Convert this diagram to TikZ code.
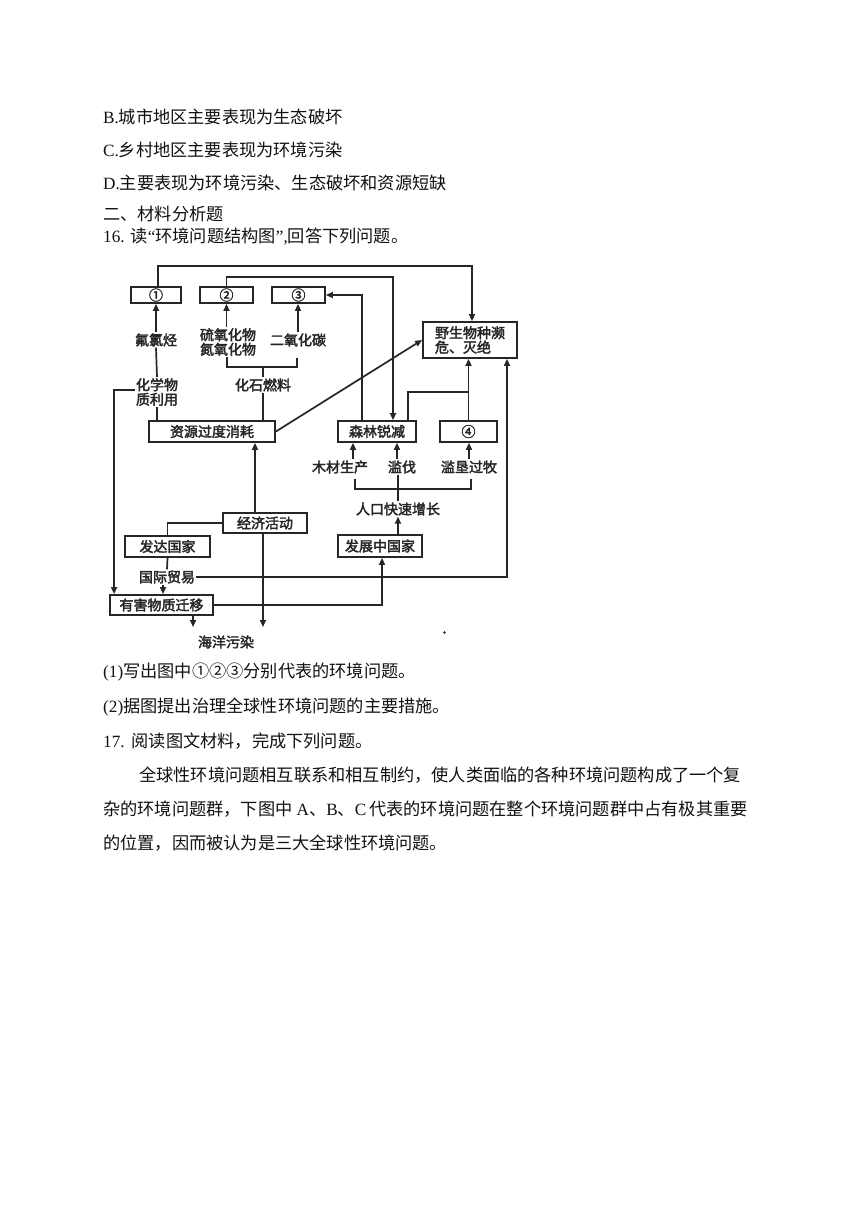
\documentclass[tikz,border=0pt]{standalone}
\usepackage{fontspec}
\setmainfont{Liberation Serif}
\newfontfamily\cjk{Noto Sans CJK SC}
\newfontfamily\dfont[AutoFakeBold=2.5]{Noto Sans CJK SC}
\newcommand\zh[1]{{\cjk #1}}
\usetikzlibrary{arrows.meta}
\definecolor{lc}{HTML}{262626}
\definecolor{tc}{HTML}{111111}
\tikzset{
  body/.style={anchor=west, inner sep=0pt, font=\fontsize{17.2}{20}\selectfont, text=tc},
  dtext/.style={inner sep=1pt, align=center, text=lc, font=\dfont\bfseries\fontsize{14}{14.5}\selectfont},
  box/.style={dtext, draw=lc, line width=1.8pt, inner sep=0pt},
  link/.style={draw=lc, line width=1.7pt},
  arr/.style={link, -{Triangle[length=7pt,width=6pt]}}
}
\begin{document}
\begin{tikzpicture}[x=1pt,y=-1pt]
\useasboundingbox (0,0) rectangle (860,1216);
\fill[white] (0,0) rectangle (860,1216);

% ---------- text above ----------
\node[body] (tB) at (103,117) {B.\zh{城市地区主要表现为生态破坏}};
\node[body] (tC) at (103,150) {C.\zh{乡村地区主要表现为环境污染}};
\node[body] (tD) at (103,183) {D.\zh{主要表现为环境污染、生态破坏和资源短缺}};
\node[body] (t2) at (103,214) {\zh{二、材料分析题}};
\node[body] (t16) at (103,237) {16.\hspace{6pt}\zh{读}“\zh{环境问题结构图}”,\zh{回答下列问题。}};

% ---------- diagram boxes ----------
\node[box, minimum width=50, minimum height=16] (b1) at (156,295) {①};
\node[box, minimum width=53, minimum height=16] (b2) at (226.5,295) {②};
\node[box, minimum width=53, minimum height=16] (b3) at (298.5,295) {③};
\node[box, minimum width=94, minimum height=36, align=left] (wild) at (470,340) {野生物种濒\\危、灭绝};
\node[box, minimum width=126, minimum height=21] (res) at (212,431.5) {资源过度消耗};
\node[box, minimum width=78, minimum height=21] (forest) at (377,431.5) {森林锐减};
\node[box, minimum width=57, minimum height=21] (b4) at (468.5,431.5) {④};
\node[box, minimum width=84, minimum height=20] (econ) at (265,523) {经济活动};
\node[box, minimum width=85, minimum height=21] (dev) at (167.5,546.5) {发达国家};
\node[box, minimum width=84, minimum height=22] (devg) at (380,546) {发展中国家};
\node[box, minimum width=103, minimum height=20] (harm) at (161.5,605) {有害物质迁移};

% ---------- diagram labels ----------
\node[dtext] (cfc) at (156,340) {氟氯烃};
\node[dtext] (sox) at (228,342) {硫氧化物\\氮氧化物};
\node[dtext] (co2) at (298,340) {二氧化碳};
\node[dtext] (chem) at (157,392) {化学物\\质利用};
\node[dtext] (fossil) at (263,385) {化石燃料};
\node[dtext] (wood) at (340,467) {木材生产};
\node[dtext] (cut) at (402,467) {滥伐};
\node[dtext] (graze) at (469,467) {滥垦过牧};
\node[dtext] (pop) at (398,509) {人口快速增长};
\node[dtext] (trade) at (167,577) {国际贸易};
\node[dtext] (ocean) at (226,642) {海洋污染};

\coordinate (oc) at (0,627);
\coordinate (brL) at (227,357);
\coordinate (brR) at (297,358);
\coordinate (wbL) at (355,479);
\coordinate (wbR) at (471,479);

% ---------- connectors: top ----------
\draw[arr] ([xshift=2]b1.north) -- ++(0,-20) -| ([xshift=2]wild.north);
\draw[arr] (b2.north) -- ++(0,-9) -| ([xshift=16]forest.north);
\draw[arr] ([xshift=-15]forest.north) |- (b3.east);
\draw[link] ([xshift=31]forest.north) -- ++(0,-28) -| (b4.north);
\draw[arr] (b4.north) -- (b4.north |- wild.south);
\draw[arr] (res.east) -- (wild.west);
\draw[arr] (trade.east) -| ([xshift=37]wild.south);

% ---------- connectors: left column ----------
\draw[arr] (cfc.north) -- (cfc.north |- b1.south);
\draw[link] (cfc.south) -- (chem.north);
\draw[link] (chem.south) -- (chem.south |- res.north);
\draw[arr] ([yshift=2]chem.west) -| ([xshift=5]harm.north west);
\draw[arr] (b2.south |- sox.north) -- (b2.south);
\draw[arr] (co2.north) -- (co2.north |- b3.south);
\draw[link] (brL) -- ++(0,10) -| (brR);
\draw[link] (fossil.north |- 0,367) -- (fossil.north);
\draw[link] (fossil.south) -- (fossil.south |- res.north);

% ---------- connectors: bottom ----------
\draw[arr] ([xshift=-10]econ.north) -- ([xshift=-10]econ.north |- res.south);
\draw[link] (econ.west) -| (dev.north);
\draw[link] (dev.south) -- (trade.north);
\draw[arr] ([xshift=-4]trade.south) -- ([xshift=-4]trade.south |- harm.north);
\draw[arr] ([xshift=31.5]harm.south) -- ([xshift=31.5]harm.south |- oc);
\draw[arr] ([xshift=-2]econ.south) -- ([xshift=-2]econ.south |- oc);
\draw[arr] (harm.east) -| ([xshift=2]devg.south);

% ---------- connectors: right column ----------
\draw[arr] ([xshift=13]wood.north) -- ([xshift=13]wood.north |- forest.south);
\draw[arr] ([xshift=-5]cut.north) -- ([xshift=-5]cut.north |- forest.south);
\draw[arr] (graze.north) -- (graze.north |- b4.south);
\draw[link] (wbL) -- ++(0,10) -| (wbR);
\draw[link] (pop.north |- cut.south) -- (pop.north);
\draw[arr] (pop.south |- devg.north) -- (pop.south);

\fill[lc] (444.5,632.5) circle (1.3);

% ---------- text below ----------
\node[body] (q1) at (103,672) {(1)\zh{写出图中①②③分别代表的环境问题。}};
\node[body] (q2) at (103,707) {(2)\zh{据图提出治理全球性环境问题的主要措施。}};
\node[body] (t17) at (103,741) {17.\hspace{7pt}\zh{阅读图文材料，完成下列问题。}};
\node[body] (p1) at (139,775) {\zh{全球性环境问题相互联系和相互制约，使人类面临的各种环境问题构成了一个复}};
\node[body] (p2) at (103,809) {\zh{杂的环境问题群，下图中} A\zh{、}B\zh{、}C\,\zh{代表的环境问题在整个环境问题群中占有极其重要}};
\node[body] (p3) at (103,843) {\zh{的位置，因而被认为是三大全球性环境问题。}};
\end{tikzpicture}
\end{document}
